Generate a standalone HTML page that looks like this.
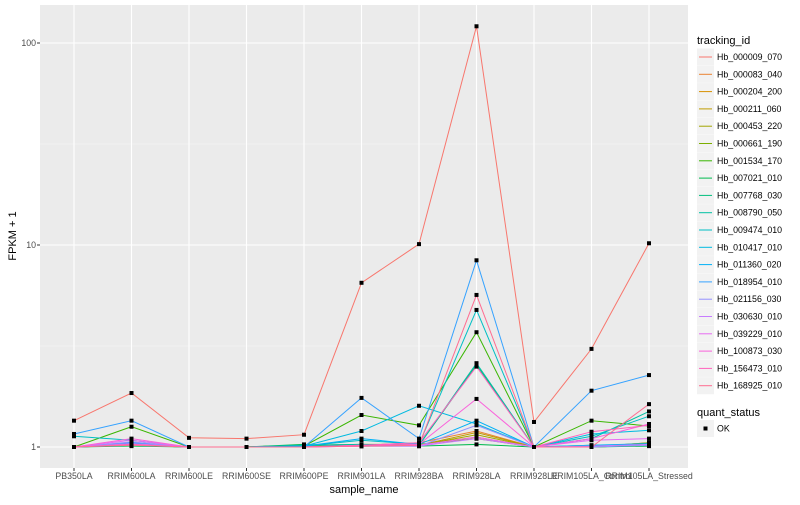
<!DOCTYPE html>
<html><head><meta charset="utf-8"><style>
body{margin:0;background:#fff;font-family:"Liberation Sans",sans-serif}
text{font-family:"Liberation Sans",sans-serif}
</style></head><body>
<svg id="chart" width="800" height="500" xmlns="http://www.w3.org/2000/svg"></svg>
<script>
const categories=["PB350LA","RRIM600LA","RRIM600LE","RRIM600SE","RRIM600PE","RRIM901LA","RRIM928BA","RRIM928LA","RRIM928LE","RRIM105LA_Control","RRIM105LA_Stressed"];
const seriesNames=["Hb_000009_070","Hb_000083_040","Hb_000204_200","Hb_000211_060","Hb_000453_220","Hb_000661_190","Hb_001534_170","Hb_007021_010","Hb_007768_030","Hb_008790_050","Hb_009474_010","Hb_010417_010","Hb_011360_020","Hb_018954_010","Hb_021156_030","Hb_030630_010","Hb_039229_010","Hb_100873_030","Hb_156473_010","Hb_168925_010"];
const seriesColors=["#F8766D","#EA8331","#D89000","#C09B00","#A3A500","#7CAE00","#39B600","#00BB4E","#00BF7D","#00C1A3","#00BFC4","#00BAE0","#00B0F6","#35A2FF","#9590FF","#C77CFF","#E76BF3","#FA62DB","#FF62BC","#FF6C91"];
const s0=[1.35,1.85,1.11,1.10,1.15,6.5,10.1,121,1.33,3.06,10.2];
const s1=[1,1.05,1,1,1.02,1.02,1.05,1.2,1,1,1.05];
const s2=[1,1.03,1,1,1.01,1.01,1.03,1.12,1,1,1.03];
const s3=[1,1.02,1,1,1.01,1.01,1.02,1.18,1,1,1.02];
const s4=[1,1.02,1,1,1.02,1.02,1.02,1.15,1,1,1.02];
const s5=[1,1.04,1,1,1.02,1.03,1.03,1.1,1,1,1.05];
const s6=[1,1.26,1,1,1.01,1.44,1.28,3.7,1,1.35,1.27];
const s7=[1,1.01,1,1,1.03,1.01,1.01,1.03,1,1,1.01];
const s8=[1,1.02,1,1,1.02,1.02,1.02,2.55,1,1.02,1.03];
const s9=[1,1.03,1,1,1.02,1.03,1.02,2.6,1,1.1,1.5];
const s10=[1.13,1.08,1,1,1.01,1.08,1.03,4.77,1,1.13,1.42];
const s11=[1,1.02,1,1,1.01,1.2,1.6,1.3,1,1.16,1.21];
const s12=[1,1.05,1,1,1.01,1.1,1.03,1.35,1,1.02,1.04];
const s13=[1.16,1.35,1,1,1.0,1.75,1.1,8.4,1,1.9,2.27];
const s14=[1,1.06,1,1,1,1.02,1.01,1.28,1,1,1.02];
const s15=[1,1.04,1,1,1,1.01,1.01,1.1,1,1.01,1.03];
const s16=[1,1.08,1,1,1,1.01,1.02,1.12,1,1.08,1.1];
const s17=[1,1.1,1,1,1,1.02,1.03,1.73,1,1.1,1.3];
const s18=[1,1.03,1,1,1,1.02,1.05,2.5,1,1.19,1.28];
const s19=[1,1.02,1,1,1,1.01,1.02,5.66,1,1.0,1.63];
const seriesValues=[s0,s1,s2,s3,s4,s5,s6,s7,s8,s9,s10,s11,s12,s13,s14,s15,s16,s17,s18,s19];
const yTicks=[1,10,100];
const yTickLabels=["1","10","100"];
const yMinor=[Math.sqrt(10),Math.sqrt(1000)];

const NS="http://www.w3.org/2000/svg";
const svg=document.getElementById('chart');
const P={l:40,r:688,t:5,b:468};
function x(i){return 74+i*57.5;}
function y(v){return 447-202*Math.log10(v);}
function el(tag,attrs,parent){const e=document.createElementNS(NS,tag);for(const k in attrs)e.setAttribute(k,attrs[k]);(parent||svg).appendChild(e);return e;}

const panel=el('rect',{x:P.l,y:P.t,width:P.r-P.l,height:P.b-P.t,fill:'#EBEBEB'});


yMinor.forEach(v=>{const g=el('line',{x1:P.l,x2:P.r,y1:y(v),y2:y(v),stroke:'#F5F5F5','stroke-width':0.6});

});
yTicks.forEach((v,i)=>{const g=el('line',{x1:P.l,x2:P.r,y1:y(v),y2:y(v),stroke:'#fff','stroke-width':1.1});


el('line',{x1:P.l-3,x2:P.l,y1:y(v),y2:y(v),stroke:'#333','stroke-width':1});
const t=el('text',{x:P.l-4,y:y(v)+3,'text-anchor':'end','font-size':8.8,fill:'#4D4D4D'});t.textContent=yTickLabels[i];

});
categories.forEach((c,i)=>{const g=el('line',{x1:x(i),x2:x(i),y1:P.t,y2:P.b,stroke:'#fff','stroke-width':1.1});


el('line',{x1:x(i),x2:x(i),y1:P.b,y2:P.b+3,stroke:'#333','stroke-width':1});
const t=el('text',{x:x(i),y:P.b+11,'text-anchor':'middle','font-size':8.8,fill:'#4D4D4D'});t.textContent=c;

});

seriesValues.forEach((vals,si)=>{const pts=vals.map((v,i)=>x(i).toFixed(1)+','+y(v).toFixed(1)).join(' ');
const pl=el('polyline',{points:pts,fill:'none',stroke:seriesColors[si],'stroke-width':1});

});
seriesValues.forEach((vals,si)=>{vals.forEach((v,i)=>{const r=el('rect',{x:x(i)-2,y:y(v)-2,width:4,height:4,fill:'#000'});

});});

const xt=el('text',{x:(P.l+P.r)/2,y:493,'text-anchor':'middle','font-size':11,fill:'#000'});xt.textContent='sample_name';


const yt=el('text',{x:0,y:0,'text-anchor':'middle','font-size':11,fill:'#000',transform:'translate(16,236) rotate(-90)'});yt.textContent='FPKM + 1';



const lt=el('text',{x:697,y:44,'font-size':11,fill:'#000'});lt.textContent='tracking_id';


seriesNames.forEach((n,i)=>{const cy=57+i*17.3;
const g=el('g',{});


el('rect',{x:697,y:cy-8.5,width:17,height:17,fill:'#F2F2F2'},g);
el('line',{x1:699,x2:712,y1:cy,y2:cy,stroke:seriesColors[i],'stroke-width':1},g);
const t=el('text',{x:717,y:cy+3,'font-size':8.8,fill:'#000'},g);t.textContent=n;});
const qt=el('text',{x:697,y:416,'font-size':11,fill:'#000'});qt.textContent='quant_status';


const qg=el('g',{});


el('rect',{x:697,y:420,width:17,height:17,fill:'#F2F2F2'},qg);
el('rect',{x:703.5,y:426.5,width:4,height:4,fill:'#000'},qg);
const ok=el('text',{x:717,y:431.5,'font-size':8.8,fill:'#000'},qg);ok.textContent='OK';
</script>
</body></html>
